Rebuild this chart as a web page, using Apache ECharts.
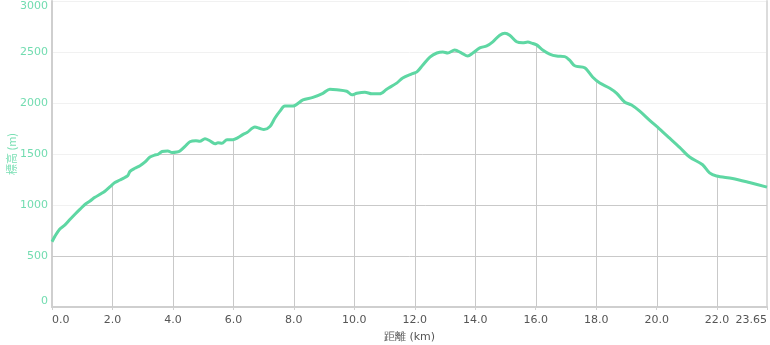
<!DOCTYPE html>
<html>
<head>
<meta charset="utf-8">
<script src="https://cdn.jsdelivr.net/npm/echarts@6/dist/echarts.min.js"></script>
<style>
html,body{margin:0;padding:0;background:#fff;}
#c{width:770px;height:345px;}
</style>
</head>
<body>
<div id="c"></div>
<script>
// distance (km)
const distKm = [0.00,0.10,0.26,0.43,0.60,0.76,0.93,1.09,1.26,1.42,1.59,1.75,1.92,2.08,2.25,2.41,2.51,2.58,2.74,2.91,3.07,3.24,3.40,3.50,3.64,3.83,3.97,4.13,4.23,4.40,4.56,4.76,4.89,5.06,5.22,5.39,5.49,5.62,5.79,5.98,6.15,6.31,6.45,6.71,6.88,7.01,7.21,7.37,7.54,7.70,7.97,8.30,8.63,8.96,9.19,9.42,9.75,9.92,10.08,10.35,10.58,10.84,11.07,11.40,11.60,11.90,12.07,12.26,12.50,12.73,12.93,13.09,13.32,13.55,13.75,13.92,14.15,14.38,14.58,14.81,14.98,15.14,15.37,15.57,15.74,15.87,16.03,16.23,16.46,16.69,16.96,17.12,17.29,17.62,17.88,18.12,18.45,18.68,18.94,19.17,19.44,19.77,20.10,20.43,20.76,21.09,21.52,21.75,21.98,22.51,23.07,23.65];
// elevation (m)
const elevM = [640,695,765,805,860,910,960,1005,1040,1075,1105,1135,1180,1220,1245,1270,1290,1330,1360,1385,1420,1470,1490,1495,1525,1530,1515,1520,1530,1575,1620,1630,1625,1650,1630,1600,1610,1605,1640,1640,1660,1690,1710,1765,1750,1740,1770,1850,1920,1970,1970,2030,2055,2095,2135,2130,2115,2080,2095,2105,2090,2090,2135,2195,2245,2285,2305,2370,2450,2490,2500,2490,2520,2490,2460,2490,2540,2560,2600,2665,2685,2665,2600,2590,2597,2587,2570,2520,2480,2460,2455,2420,2365,2345,2255,2195,2145,2095,2010,1980,1920,1830,1745,1655,1565,1470,1395,1315,1285,1260,1220,1175];
// tick values and labels
const xTicks = [0,2,4,6,8,10,12,14,16,18,20,22,23.65];
const xTickLabels = ['0.0','2.0','4.0','6.0','8.0','10.0','12.0','14.0','16.0','18.0','20.0','22.0','23.65'];
const yTicks = [0,500,1000,1500,2000,2500,3000];
const yTickLabels = ['0','500','1000','1500','2000','2500','3000'];

const xMax = 23.65, yMax = 3000;
const lineColor = '#5ed7a3';

function elevAt(x){
  for(let i=1;i<distKm.length;i++){
    if(x<=distKm[i]){
      const t=(x-distKm[i-1])/(distKm[i]-distKm[i-1]);
      return elevM[i-1]+t*(elevM[i]-elevM[i-1]);
    }
  }
  return elevM[elevM.length-1];
}
// segments of a horizontal level where the profile is above it
function levelSegments(L){
  const segs=[]; let start=null;
  if(elevM[0]>=L) start=distKm[0];
  for(let i=1;i<distKm.length;i++){
    const a=elevM[i-1], b=elevM[i];
    if((a<L)!==(b<L)){
      const x=distKm[i-1]+(L-a)/(b-a)*(distKm[i]-distKm[i-1]);
      if(b>=L) start=x; else {segs.push([start,x]); start=null;}
    }
  }
  if(start!==null) segs.push([start,distKm[distKm.length-1]]);
  return segs;
}

const chart = echarts.init(document.getElementById('c'));
const axisFont = 'DejaVu Sans, Verdana, sans-serif';
chart.setOption({
  animation:false,
  grid:{left:52,right:3,top:1,bottom:38,containLabel:false,outerBoundsMode:'none'},
  xAxis:{
    type:'value',min:0,max:xMax,interval:2,
    name:'距離 (km)',nameLocation:'middle',nameGap:25,nameMoveOverlap:false,
    nameTextStyle:{color:'#555',fontSize:11,fontFamily:axisFont},
    axisLine:{show:true,lineStyle:{color:'#cfcfcf',width:2}},
    axisTick:{show:true,length:3,lineStyle:{color:'#cfcfcf'}},
    splitLine:{show:false},
    axisLabel:{color:'#555',fontSize:11,fontFamily:axisFont,margin:8,
      alignMinLabel:'left',alignMaxLabel:'right',showMaxLabel:true,showMinLabel:true,
      formatter:function(v){const i=xTicks.findIndex(t=>Math.abs(t-v)<1e-6);return i>=0?xTickLabels[i]:'';}}
  },
  yAxis:[{
    type:'value',min:0,max:yMax,interval:500,
    name:'標高 (m)',nameLocation:'middle',nameGap:35,nameMoveOverlap:false,
    nameTextStyle:{color:'#7adfb4',fontSize:11,fontFamily:'Noto Sans CJK JP, sans-serif'},
    axisLine:{show:true,lineStyle:{color:'#cfcfcf',width:2}},
    axisTick:{show:false},
    splitLine:{show:true,lineStyle:{color:'#f1f1f1',width:1}},
    axisLabel:{color:'#72dcb0',fontSize:11,fontFamily:axisFont,margin:4,
      verticalAlignMinLabel:'bottom',verticalAlignMaxLabel:'top',
      formatter:function(v){const i=yTicks.indexOf(v);return i>=0?yTickLabels[i]:String(v);}}
  },{
    type:'value',min:0,max:yMax,position:'right',
    axisLine:{show:true,lineStyle:{color:'#dcdcdc',width:2}},
    axisTick:{show:false},axisLabel:{show:false},splitLine:{show:false}
  }],
  series:[{
    type:'custom',silent:true,clip:false,z:1,
    data:[[0,0]],
    renderItem:function(params,api){
      const children=[];
      const st={stroke:'#c9c9c9',lineWidth:1};
      yTicks.forEach(L=>{
        if(L<=0||L>=yMax) return;
        levelSegments(L).forEach(s=>{
          const p1=api.coord([s[0],L]), p2=api.coord([s[1],L]);
          const y=Math.round(p1[1])+0.5;
          children.push({type:'line',shape:{x1:p1[0],y1:y,x2:p2[0],y2:y},style:st});
        });
      });
      xTicks.forEach(x=>{
        if(x<=0||x>=xMax) return;
        const p1=api.coord([x,0]), p2=api.coord([x,elevAt(x)]);
        const xx=Math.round(p1[0])+0.5;
        children.push({type:'line',shape:{x1:xx,y1:p1[1],x2:xx,y2:p2[1]},style:st});
      });
      return {type:'group',children:children};
    }
  },{
    type:'line',z:3,
    data:distKm.map((d,i)=>[d,elevM[i]]),
    showSymbol:false,smooth:0.3,
    lineStyle:{color:lineColor,width:3},
    itemStyle:{color:lineColor}
  }]
});
</script>
</body>
</html>
